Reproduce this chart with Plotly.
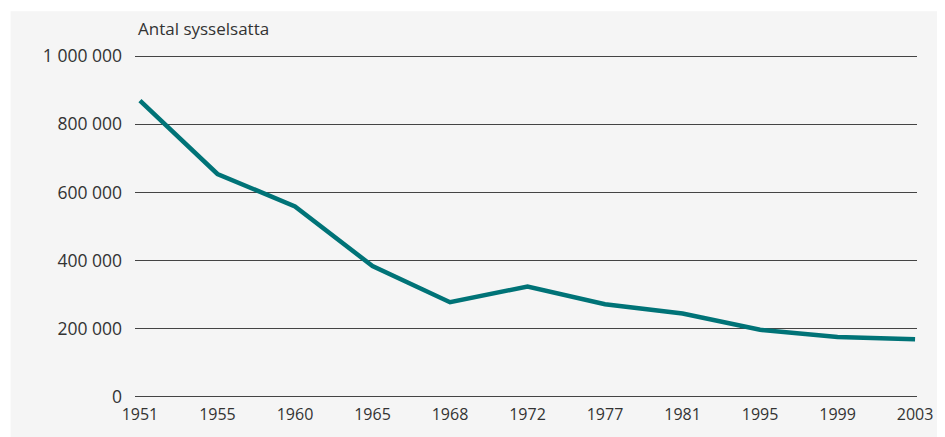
import plotly.graph_objects as go

years = ["1951", "1955", "1960", "1965", "1968", "1972", "1977", "1981", "1995", "1999", "2003"]
employed = [869000, 654000, 559000, 384000, 278000, 324000, 272000, 245000, 197000, 176000, 169000]

y_ticks = [0, 200000, 400000, 600000, 800000, 1000000]
y_labels = ["0", "200 000", "400 000", "600 000", "800 000", "1 000 000"]

# page has an 8px body margin, so the figure is drawn 8px smaller
OFF = 8
W, H = 945 - OFF, 437 - OFF
L, T = 135 - OFF, 55 - OFF
pw, ph = 792, 344
R, B = W - L - pw, H - T - ph


def px_x(x):
    return (x - OFF - L) / pw


def px_y(y):
    return (H - B - (y - OFF)) / ph


fig = go.Figure()
fig.add_trace(go.Scatter(
    x=list(range(len(years))), y=employed, mode="lines",
    line=dict(color="#007377", width=4.5),
    hoverinfo="x+y", showlegend=False,
))

# light grey panel behind the chart
fig.add_shape(type="rect", xref="paper", yref="paper", layer="below",
              x0=px_x(9), x1=px_x(960), y0=px_y(450), y1=px_y(11),
              fillcolor="#f5f5f5", line=dict(width=0))

fig.add_annotation(text="Antal sysselsatta", xref="paper", yref="paper",
                   x=px_x(136), y=px_y(42),
                   xanchor="left", yanchor="bottom", showarrow=False,
                   font=dict(size=17, color="#333"))

fig.update_layout(
    width=W, height=H,
    margin=dict(l=L, r=R, t=T, b=B),
    paper_bgcolor="white", plot_bgcolor="rgba(0,0,0,0)",
    font=dict(family="Open Sans, Lato, sans-serif", size=16, color="#333"),
)
fig.update_xaxes(
    tickvals=list(range(len(years))), ticktext=years,
    range=[-0.064, len(years) - 1 + 0.025],
    showgrid=False, zeroline=False, showline=False,
    ticks="", ticklabelstandoff=5, tickfont=dict(size=16, color="#333"),
)
fig.update_yaxes(
    tickvals=y_ticks, ticktext=y_labels, range=[-3000, 1003000],
    showgrid=True, gridcolor="#444", gridwidth=1,
    zeroline=True, zerolinecolor="#444", zerolinewidth=1, showline=False,
    ticks="", ticklabelstandoff=12, tickfont=dict(size=17.5, color="#333"),
)

fig.write_html("out.html")
